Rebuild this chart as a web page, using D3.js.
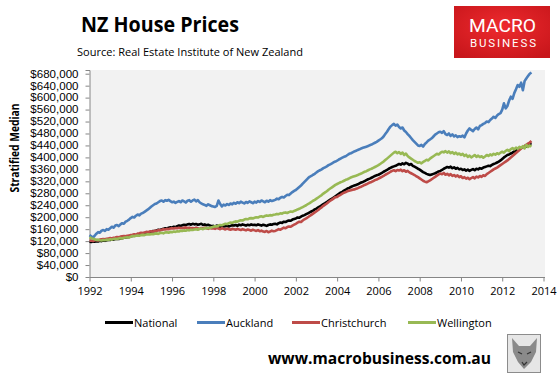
<!DOCTYPE html>
<html>
<head>
<meta charset="utf-8">
<script src="https://cdn.jsdelivr.net/npm/d3@7"></script>
<style>
  body { margin: 0; background: #fff; }
  svg { display: block; font-family: "Open Sans", sans-serif; }
</style>
</head>
<body>
<div id="chart"></div>
<script>
// monthly stratified median, thousands of NZD, starting Jan 1992
const startYear = 1992;
const seriesNames = ['National', 'Auckland', 'Christchurch', 'Wellington'];
const seriesColors = ['#000000', '#4a7ebb', '#be4b48', '#98b954'];

const national = [
  118,117,119,118,120,119,121,120,122,121,123,124,
  124,126,125,127,128,127,129,130,131,132,133,134,
  136,137,139,138,141,142,144,143,146,147,149,150,
  152,154,153,156,158,157,160,161,163,162,165,166,
  165,168,167,170,172,171,173,175,174,176,177,175,
  178,176,177,175,176,178,174,176,173,175,172,170,
  171,169,172,170,168,171,169,170,172,169,171,173,
  172,174,171,175,173,176,174,172,175,173,176,174,
  175,173,176,174,172,175,173,171,174,176,175,177,
  178,176,180,182,181,185,184,187,189,188,192,194,
  196,199,198,202,205,207,210,213,216,219,222,226,
  229,233,236,240,244,247,251,255,259,262,266,270,
  274,278,282,285,289,292,296,298,301,304,306,308,
  310,313,316,318,321,324,327,329,332,335,338,340,
  342,345,348,352,355,358,362,365,368,370,372,375,
  378,376,380,377,382,379,375,378,372,369,366,362,
  359,355,351,348,345,343,341,343,345,347,350,353,
  355,358,362,365,368,366,369,364,367,362,365,360,
  362,358,360,356,359,355,358,361,357,362,360,364,
  362,366,368,370,372,371,375,378,380,383,386,390,
  395,400,404,408,410,413,416,420,422,425,428,432,
  434,438,436,442,445,448
];

const auckland = [
  140,136,132,138,145,150,148,155,157,154,160,158,
  163,168,165,172,174,170,176,180,178,185,188,192,
  197,201,199,205,209,206,212,214,218,222,226,231,
  236,240,244,246,250,254,256,252,257,255,258,254,
  250,252,248,251,254,250,256,253,249,255,257,252,
  256,259,253,257,250,246,243,241,238,243,240,237,
  236,234,238,256,244,236,242,239,244,241,246,243,
  248,245,250,247,252,249,246,251,248,253,250,247,
  252,249,254,251,256,253,250,255,252,257,254,256,
  258,262,260,265,268,266,271,275,274,279,284,288,
  291,296,301,306,312,318,324,330,335,338,342,345,
  350,354,357,360,364,367,370,374,377,380,384,386,
  389,393,396,399,402,404,408,412,414,417,420,422,
  425,427,430,432,434,436,438,441,443,446,449,452,
  456,460,464,470,478,486,495,503,508,512,506,510,
  502,497,500,490,485,478,472,465,458,452,446,440,
  438,442,436,445,450,456,460,464,470,476,480,484,
  486,482,488,478,475,480,472,477,470,474,468,471,
  469,473,467,480,490,497,492,488,495,500,494,505,
  508,512,515,520,518,525,530,536,532,540,545,548,
  560,581,564,572,590,603,596,615,628,642,636,650,
  625,655,664,672,680,684
];

const christchurch = [
  121,122,120,123,124,122,125,126,127,126,128,129,
  130,129,131,132,134,133,135,136,137,136,138,139,
  140,141,143,142,145,146,148,147,149,151,150,152,
  153,152,155,154,157,156,158,160,159,161,160,162,
  163,162,164,163,165,164,163,165,166,164,165,163,
  164,162,165,163,161,164,162,165,163,161,164,162,
  163,161,164,162,160,163,161,159,162,160,158,161,
  160,158,161,159,157,160,158,156,159,157,155,158,
  156,154,157,153,155,152,151,154,150,152,155,153,
  154,157,160,158,162,165,163,167,169,168,172,175,
  178,182,185,184,189,193,196,200,204,208,212,216,
  220,224,229,233,238,242,246,251,255,259,263,267,
  268,272,275,279,282,284,287,289,290,292,293,295,
  297,300,302,305,308,310,313,316,318,321,324,326,
  329,332,335,338,342,345,348,352,355,357,354,358,
  356,359,354,357,352,355,350,347,344,341,337,334,
  330,326,322,319,317,320,323,327,331,335,339,343,
  346,344,348,342,345,340,344,338,341,336,340,334,
  337,331,334,329,332,327,331,334,330,336,333,338,
  335,340,338,344,348,352,356,360,363,366,370,374,
  378,382,386,390,395,400,405,410,415,420,425,430,
  434,438,442,446,450,455
];

const wellington = [
  133,130,128,126,124,125,123,122,124,123,125,124,
  126,125,127,128,127,129,130,129,131,132,133,132,
  135,137,136,138,139,138,140,141,140,142,143,142,
  144,143,145,146,144,147,148,146,149,150,148,151,
  150,152,151,153,152,155,154,156,155,157,156,158,
  157,159,160,158,161,162,160,163,164,163,165,166,
  168,170,169,172,174,173,176,178,177,180,182,181,
  184,186,185,188,190,189,192,194,193,196,197,196,
  198,200,199,202,203,201,204,206,205,207,206,208,
  209,211,210,213,212,215,216,214,217,219,218,221,
  223,226,228,231,234,237,240,244,247,251,255,258,
  262,266,270,274,279,283,287,292,296,300,304,308,
  311,314,317,319,322,325,327,330,333,335,337,339,
  341,344,346,349,352,354,357,360,362,365,368,371,
  374,378,382,386,391,396,401,406,411,416,419,414,
  418,412,416,408,413,405,400,396,392,388,385,382,
  384,380,385,388,392,390,396,400,404,408,412,410,
  415,419,417,421,416,420,414,418,412,416,410,413,
  408,412,405,409,402,406,400,404,408,402,406,401,
  404,399,403,408,405,410,407,412,409,414,411,416,
  419,416,422,425,421,428,431,427,433,429,435,432,
  438,430,442,435,440,436
];

const yTicks = d3.range(0, 680001, 40000);
const xTicks = d3.range(1992, 2015, 2);

const width = 559, height = 377;
const svg = d3.select('#chart').append('svg')
  .attr('width', width)
  .attr('height', height);

const x = d3.scaleLinear().domain([1992, 2014]).range([89.5, 543.5]);
const y = d3.scaleLinear().domain([0, 680000]).range([277, 73.7]);

// plot area
svg.append('rect')
  .attr('x', 90).attr('y', 70)
  .attr('width', 455).attr('height', 207)
  .attr('fill', '#f2f2f2');

// axes
const yAxis = d3.axisLeft(y)
  .tickValues(yTicks)
  .tickSize(4)
  .tickPadding(7)
  .tickFormat(d => '$' + d3.format(',')(d));

const gy = svg.append('g')
  .attr('transform', 'translate(89.5,0)')
  .call(yAxis);
gy.select('.domain').attr('d', 'M-4,70.5H0.5V277.5').attr('stroke', '#868686');
gy.selectAll('.tick line').attr('stroke', '#868686');
gy.selectAll('.tick text')
  .attr('font-size', 10.5)
  .attr('fill', '#000')
  .attr('font-family', '"Liberation Sans", Arial, sans-serif')
  .attr('textLength', function () { return this.getComputedTextLength() * 1.1; })
  .attr('lengthAdjust', 'spacingAndGlyphs');

const xAxis = d3.axisBottom(x)
  .tickValues(xTicks)
  .tickSize(4)
  .tickPadding(6)
  .tickFormat(d3.format('d'));

const gx = svg.append('g')
  .attr('transform', 'translate(0,277.5)')
  .call(xAxis);
gx.select('.domain').attr('d', 'M89.5,0H545').attr('stroke', '#868686');
gx.selectAll('.tick line').attr('stroke', '#868686');
gx.selectAll('.tick text').attr('font-size', 11).attr('fill', '#000')
  .attr('font-family', '"Open Sans", sans-serif');

// lines
const allSeries = [national, auckland, christchurch, wellington];
const line = d3.line()
  .x((d, i) => x(startYear + i / 12))
  .y(d => y(d * 1000));

svg.append('g').selectAll('path')
  .data(allSeries)
  .enter()
  .append('path')
  .attr('d', d => line(d))
  .attr('fill', 'none')
  .attr('stroke', (d, i) => seriesColors[i])
  .attr('stroke-width', 2.6)
  .attr('stroke-linejoin', 'round');

// y axis title
svg.append('text')
  .attr('transform', 'translate(19,148) rotate(-90)')
  .attr('text-anchor', 'middle')
  .attr('font-size', 11.5)
  .attr('font-weight', 'bold')
  .attr('textLength', 89)
  .attr('lengthAdjust', 'spacingAndGlyphs')
  .text('Stratified Median');

// titles
svg.append('text')
  .attr('x', 81).attr('y', 32)
  .attr('font-size', 21)
  .attr('font-weight', 'bold')
  .attr('textLength', 158)
  .attr('lengthAdjust', 'spacingAndGlyphs')
  .text('NZ House Prices');

svg.append('text')
  .attr('x', 77).attr('y', 56)
  .attr('font-size', 10.5)
  .attr('textLength', 226)
  .attr('lengthAdjust', 'spacingAndGlyphs')
  .text('Source: Real Estate Institute of New Zealand');

// legend
const legendX = [105, 197, 292, 408];
const legend = svg.append('g');
seriesNames.forEach((name, i) => {
  legend.append('line')
    .attr('x1', legendX[i]).attr('x2', legendX[i] + 28)
    .attr('y1', 322.5).attr('y2', 322.5)
    .attr('stroke', seriesColors[i])
    .attr('stroke-width', 3);
  legend.append('text')
    .attr('x', legendX[i] + 29).attr('y', 326.5)
    .attr('font-size', 11)
    .text(name);
});

// footer url
svg.append('text')
  .attr('x', 268).attr('y', 364)
  .attr('font-size', 16)
  .attr('font-weight', 'bold')
  .attr('textLength', 223)
  .attr('lengthAdjust', 'spacingAndGlyphs')
  .text('www.macrobusiness.com.au');

// logo
const defs = svg.append('defs');
const grad = defs.append('radialGradient').attr('id', 'logoGrad')
  .attr('cx', '50%').attr('cy', '40%').attr('r', '70%');
grad.append('stop').attr('offset', '0%').attr('stop-color', '#ee2a2e');
grad.append('stop').attr('offset', '100%').attr('stop-color', '#c8161b');

svg.append('rect')
  .attr('x', 454).attr('y', 6)
  .attr('width', 96).attr('height', 52)
  .attr('fill', 'url(#logoGrad)');
svg.append('text')
  .attr('x', 469).attr('y', 32)
  .attr('font-family', 'Roboto, sans-serif')
  .attr('font-size', 18)
  .attr('fill', '#fff')
  .attr('textLength', 67)
  .attr('lengthAdjust', 'spacingAndGlyphs')
  .text('MACRO');
svg.append('text')
  .attr('x', 470).attr('y', 46.5)
  .attr('font-family', 'Roboto, sans-serif')
  .attr('font-size', 11.5)
  .attr('fill', '#fff')
  .attr('textLength', 66)
  .attr('lengthAdjust', 'spacing')
  .text('BUSINESS');

// wolf badge
const wolf = svg.append('g');
wolf.append('rect')
  .attr('x', 507.5).attr('y', 334.5)
  .attr('width', 33).attr('height', 38)
  .attr('fill', '#e6e6e6')
  .attr('stroke', '#8c8c8c');
wolf.append('path')
  .attr('d', 'M512,338 L519,346 L530,346 L537,338 L536,352 L531,362 L524,369 L518,362 L513,352 Z')
  .attr('fill', '#8a8a8a');
wolf.append('path')
  .attr('d', 'M518,352 L522,354 M527,354 L531,352 M522,362 L524,365 L527,362')
  .attr('stroke', '#333')
  .attr('stroke-width', 1.2)
  .attr('fill', 'none');
</script>
</body>
</html>
